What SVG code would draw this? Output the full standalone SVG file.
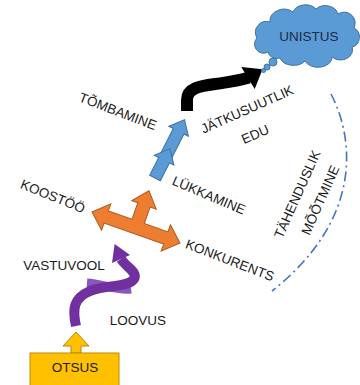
<svg xmlns="http://www.w3.org/2000/svg" width="360" height="385" viewBox="0 0 360 385">
<style>
.t{font-family:"Liberation Sans",Arial,sans-serif;font-size:13.5px;fill:#1a1a1a;text-anchor:middle}
.blue{fill:#5b9bd5;stroke:#41719c;stroke-width:1}
.orange{fill:#ed7d31;stroke:#ae5a21;stroke-width:1}
.yellow{fill:#ffc000;stroke:#bc8c00;stroke-width:1}
.dd{fill:none;stroke:#4472c4;stroke-width:1.6;stroke-dasharray:10 4 2 4}
</style>
<rect width="360" height="385" fill="#ffffff"/>

<g id="connectors">
  <!-- black curved arrow -->
  <path d="M187,111 L187,100 C187,88 200,86 215,84 C228,82 236,81.5 249,77.5" fill="none" stroke="#000" stroke-width="12"/>
  <polygon points="241.3,66.9 262.6,69.3 254.7,89.1" fill="#000"/>
  <!-- blue arrows -->
  <polygon class="blue" transform="translate(165,158) rotate(27)" points="-6,0 6,0 6,-30 11,-30 0,-43 -11,-30 -6,-30"/>
  <polygon class="blue" transform="translate(155,178) rotate(27)" points="-6,0 6,0 6,-20 11,-20 0,-33 -11,-20 -6,-20"/>
  <!-- orange T arrow -->
  <polygon class="orange" transform="translate(136,227.5) rotate(19.4)" points="-46.6,0 -31.6,-14 -31.6,-6.5 -6.5,-6.5 -6.5,-24 -13,-24 0,-39 13,-24 6.5,-24 6.5,-6.5 31.6,-6.5 31.6,-14 46.6,0 31.6,14 31.6,6.5 -31.6,6.5 -31.6,14"/>
  <!-- purple helix -->
  <path d="M87,283 C102,284 118,291 131,289" fill="none" stroke="#8a55bd" stroke-width="9"/>
  <path d="M76,326 C72,308 74,298 90,291 C108,284 128,288 134,279 C138,272 127,268 121,259" fill="none" stroke="#7030a0" stroke-width="10"/>
  <polygon points="130,255 114.6,244 112,263" fill="#7030a0"/>
  <!-- dash-dot arc -->
  <path class="dd" d="M331,94 C355,140 362,220 272,291"/>
</g>

<g id="unistus">
  <path class="blue" d="M268,52 A9,9 0 0 1 257,38 A11,11 0 0 1 270,22 A14,12 0 0 1 293,12 A13,10 0 0 1 316,9 A13,11 0 0 1 338,14 A11,11 0 0 1 354,28 A9,10 0 0 1 352,47 A12,10 0 0 1 332,57 A14,10 0 0 1 305,61 A14,10 0 0 1 280,58 A9,8 0 0 1 268,52 Z"/>
  <circle class="blue" cx="273" cy="62" r="4"/>
  <circle class="blue" cx="267" cy="67" r="3"/>
  <circle class="blue" cx="263.5" cy="70.5" r="2"/>
  <text class="t" x="309" y="41" style="fill:#1f2a44">UNISTUS</text>
</g>

<g id="otsus">
  <polygon class="yellow" points="71,353 71,346 63,346 76,332 89,346 81,346 81,353"/>
  <rect class="yellow" x="30" y="353" width="89" height="40"/>
  <text class="t" x="75" y="372">OTSUS</text>
</g>

<g id="tombamine"><text class="t" transform="translate(118,111) rotate(21)" x="0" y="5">TÕMBAMINE</text></g>
<g id="jatkusuutlik-edu">
  <text class="t" transform="translate(247,109) rotate(-24)" x="0" y="5">JÄTKUSUUTLIK</text>
  <text class="t" transform="translate(255,134) rotate(-24)" x="0" y="5">EDU</text>
</g>
<g id="lukkamine"><text class="t" transform="translate(209,195) rotate(23)" x="0" y="5">LÜKKAMINE</text></g>
<g id="koostoo"><text class="t" transform="translate(53,196) rotate(22)" x="0" y="5">KOOSTÖÖ</text></g>
<g id="konkurents"><text class="t" transform="translate(230,260) rotate(21)" x="0" y="5">KONKURENTS</text></g>
<g id="vastuvool"><text class="t" x="64" y="270">VASTUVOOL</text></g>
<g id="loovus"><text class="t" x="138" y="325">LOOVUS</text></g>
<g id="tahenduslik-mootmine">
  <text class="t" transform="translate(297,194) rotate(-66)" x="0" y="5">TÄHENDUSLIK</text>
  <text class="t" transform="translate(320,200) rotate(-66)" x="0" y="5">MÕÕTMINE</text>
</g>
</svg>
